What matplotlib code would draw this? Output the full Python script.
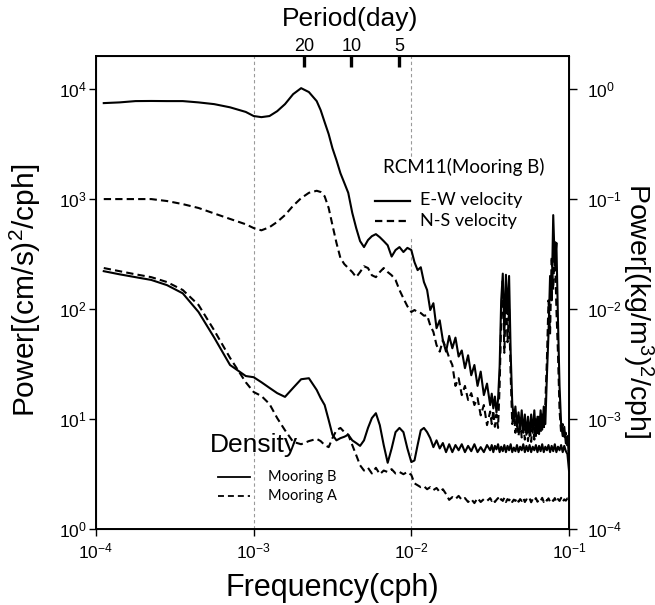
import matplotlib
matplotlib.use("Agg")
import matplotlib.pyplot as plt
import numpy as np
from matplotlib.ticker import FixedLocator, NullLocator, FuncFormatter

plt.rcParams['font.family'] = ['Liberation Sans', 'DejaVu Sans']
plt.rcParams['mathtext.fontset'] = 'custom'
plt.rcParams['mathtext.rm'] = 'Liberation Sans'
plt.rcParams['mathtext.it'] = 'Liberation Sans:italic'
plt.rcParams['mathtext.bf'] = 'Liberation Sans:bold'

# ---------------- data ----------------
freq = [1.12e-4, 1.41e-4, 1.78e-4, 2.24e-4, 2.82e-4, 3.55e-4, 4.47e-4, 5.62e-4, 7.08e-4, 8.91e-4,
        1.00e-3, 1.12e-3, 1.26e-3, 1.41e-3, 1.58e-3, 1.78e-3, 2.00e-3, 2.24e-3, 2.51e-3,
        2.66e-3, 2.82e-3, 2.99e-3, 3.16e-3, 3.35e-3, 3.55e-3, 3.76e-3, 3.98e-3, 4.22e-3, 4.47e-3,
        4.73e-3, 5.01e-3, 5.31e-3, 5.62e-3, 5.96e-3, 6.31e-3, 6.68e-3, 7.08e-3, 7.50e-3, 7.94e-3,
        8.41e-3, 8.91e-3, 9.44e-3, 1.00e-2,
        0.01047, 0.01096, 0.01148, 0.01202, 0.01259, 0.01318, 0.01380, 0.01445, 0.01514, 0.01585,
        0.01660, 0.01738, 0.01820, 0.01905, 0.01995, 0.02089, 0.02188, 0.02291, 0.02399, 0.02512,
        0.02630, 0.02754, 0.02884, 0.03020,
        0.03162, 0.03236, 0.03311, 0.03388, 0.03467, 0.03548, 0.03631, 0.03715, 0.03802, 0.03890,
        0.03981, 0.04074, 0.04169, 0.04266, 0.04365, 0.04467, 0.04571, 0.04677, 0.04786, 0.04898,
        0.05012, 0.05129, 0.05248, 0.05370, 0.05495, 0.05623, 0.05754, 0.05888, 0.06026, 0.06166,
        0.06310, 0.06457, 0.06607, 0.06761, 0.06918, 0.07079, 0.07244, 0.07413, 0.07586, 0.07762,
        0.07943, 0.08128, 0.08318, 0.08511, 0.08710, 0.08913, 0.09120, 0.09333, 0.09550, 0.09772,
        0.1]

# velocity spectra, (cm/s)^2/cph
ew_velocity = [7460, 7570, 7780, 7800, 7780, 7780, 7570, 7300, 6830, 6200,
               5690, 5560, 5690, 6300, 7300, 9000, 10200, 9400, 7780,
               6440, 5000, 3900, 2900, 2260, 1720, 1400, 1140, 750, 545, 415, 366, 424, 460,
               480, 450, 415, 380, 300, 344, 366, 330, 360, 344,
               267, 226, 240, 176, 149, 98, 113, 67, 79, 52, 41, 57, 44, 55, 37, 42, 29, 38, 25, 31,
               20, 27, 16.5, 21,
               13.4, 17, 12.5, 16, 11.5, 15, 30, 120, 210, 60,
               205, 90, 200, 40, 14, 10, 13, 8.5, 11.5, 8,
               12, 7.5, 11, 7.2, 10.5, 7, 11, 7.5, 12, 7,
               10.5, 7.3, 12, 8, 13, 9, 25, 60, 200, 120,
               715, 250, 400, 80, 20, 9, 7, 8.5, 6, 7,
               4.5]
ns_velocity = [1000, 1000, 1000, 1000, 960, 900, 830, 740, 660, 590,
               545, 520, 555, 620, 715, 870, 1020, 1140, 1190,
               1160, 1060, 830, 580, 400, 291, 256, 236, 217, 195, 217, 245, 236, 203,
               195, 217, 236, 217, 203, 184, 149, 125, 106, 94,
               98, 94, 92, 87, 88, 71, 62, 47, 41, 52, 44, 36, 31, 20, 23.5, 16.5, 20, 14.9, 17.2, 13.4,
               15.5, 10.8, 13.4, 8.8,
               11.7, 9, 12, 8.5, 11, 8.3, 20, 80, 180, 40,
               140, 50, 100, 25, 9, 12, 7.5, 10, 7, 9.5,
               6.8, 9.3, 6.5, 9, 6.3, 8.8, 6.2, 9.5, 6.5, 10,
               7, 10.5, 7.5, 11, 8, 14, 35, 120, 60, 300,
               150, 420, 100, 40, 12, 7.5, 9, 6.5, 7.5, 5.5,
               5]

# density spectra, in units of 1e-4 (kg/m^3)^2/cph
density_b_e4 = [221, 207, 195, 184, 165, 139, 94, 55, 31, 24.6,
                24, 21.6, 19.2, 17.2, 15.9, 19.2, 23, 23.5, 18.4,
                15.5, 13.4, 9.8, 7.2, 6.4, 6.7, 6.9, 7.2, 6.4, 6.05, 5.7, 6.4, 8.3, 10.2,
                11.3, 8.8, 5.8, 4.0, 5.4, 7.6, 8.3, 7.6, 5.4, 4.06,
                4.2, 5.8, 7.9, 8.3, 7.6, 6.7, 5.55, 6.4, 5.4, 6.05, 5.0, 5.9, 5.0, 5.8, 5.2, 5.9,
                5.0, 5.7, 5.1, 5.9, 5.0, 5.55, 5.0, 5.8,
                5.2, 5.8, 5.0, 5.7, 5.3, 5.9, 5.0, 5.6, 5.1, 5.8,
                5.0, 5.7, 5.2, 5.9, 5.0, 5.5, 5.1, 5.8, 5.0, 5.6,
                5.2, 5.9, 5.0, 5.7, 5.1, 5.8, 5.0, 5.6, 5.2, 5.8,
                5.0, 5.7, 5.1, 5.9, 5.0, 5.6, 5.2, 5.8, 5.0, 5.7,
                5.1, 5.9, 5.0, 5.6, 5.2, 5.8, 5.0, 5.7, 5.1, 4.8,
                3.4]
density_a_e4 = [236, 221, 207, 195, 176, 149, 109, 64, 36, 21.6,
                17.6, 16.2, 13.7, 10.2, 7.9, 6.2, 5.9, 6.3, 6.6,
                6.3, 5.8, 5.55, 6.7, 7.9, 8.3, 7.6, 7.2, 5.8, 4.7, 3.8, 3.4, 3.6, 3.2,
                3.6, 3.15, 3.4, 3.3, 3.5, 3.2, 3.3, 3.15, 3.3, 3.1,
                2.6, 2.5, 2.4, 2.45, 2.3, 2.4, 2.26, 2.36, 2.17, 2.3, 2.08, 1.84, 1.95, 1.87, 2.0,
                1.84, 1.91, 1.76, 1.87, 1.72, 1.91, 1.76, 1.87, 1.8,
                1.91, 1.80, 1.87, 1.76, 1.84, 1.91, 1.78, 1.87, 1.80, 1.92,
                1.76, 1.87, 1.82, 1.90, 1.76, 1.85, 1.80, 1.91, 1.77, 1.87,
                1.80, 1.92, 1.76, 1.86, 1.81, 1.90, 1.75, 1.87, 1.80, 1.91,
                1.77, 1.86, 1.80, 1.92, 1.76, 1.87, 1.81, 1.90, 1.77, 1.86,
                1.80, 1.91, 1.76, 1.87, 1.80, 1.92, 1.77, 1.86, 1.81, 1.90,
                1.91]

period_days = [20, 10, 5]
left_ticks = [1, 10, 100, 1000, 10000]
right_ticks = [1e-4, 1e-3, 1e-2, 1e-1, 1]
x_ticks = [1e-4, 1e-3, 1e-2, 1e-1]
ref_lines = [1e-3, 1e-2]

freq = np.array(freq)
density_b = np.array(density_b_e4) * 1e-4
density_a = np.array(density_a_e4) * 1e-4
period_freq = [1.0 / (24.0 * p) for p in period_days]

# ---------------- figure ----------------
fig = plt.figure(figsize=(6.55, 6.05), dpi=100)
ax = fig.add_axes([96 / 655, 1 - 529 / 605, 473 / 655, 473 / 605])
ax.set_xscale('log')
ax.set_yscale('log')
ax.set_xlim(1e-4, 1e-1)
ax.set_ylim(1, 2e4)

def sci(v, pos=None):
    e = int(round(np.log10(v)))
    return r'$\mathdefault{10^{%d}}$' % e

ax.xaxis.set_major_locator(FixedLocator(x_ticks))
ax.xaxis.set_minor_locator(NullLocator())
ax.yaxis.set_major_locator(FixedLocator(left_ticks))
ax.yaxis.set_minor_locator(NullLocator())
ax.xaxis.set_major_formatter(FuncFormatter(sci))
ax.yaxis.set_major_formatter(FuncFormatter(sci))
ax.tick_params(axis='both', direction='out', length=5, width=1, labelsize=12.5)
ax.tick_params(axis='y', pad=1.5)
ax.tick_params(axis='x', pad=4)
for s in ax.spines.values():
    s.set_linewidth(1.2)

# reference vertical lines
for xv in ref_lines:
    ax.axvline(xv, color='#9a9a9a', lw=0.8, ls=(0, (3, 2.5)), zorder=1)

# white box behind upper legend
ax.add_patch(plt.Rectangle((0.57, 0.615), 0.36, 0.17, transform=ax.transAxes,
                           facecolor='white', edgecolor='none', zorder=1.5))

lw = 1.5
ax.plot(freq, ew_velocity, color='black', lw=lw, zorder=3)
l_ns, = ax.plot(freq, ns_velocity, color='black', lw=lw, zorder=3)
l_ns.set_dashes([3.5, 2.0])

ax2 = ax.twinx()
ax2.set_yscale('log')
ax2.set_ylim(1e-4, 2)
ax2.yaxis.set_major_locator(FixedLocator(right_ticks))
ax2.yaxis.set_minor_locator(NullLocator())
ax2.yaxis.set_major_formatter(FuncFormatter(sci))
ax2.tick_params(axis='y', direction='out', length=6, width=1, labelsize=12.5, pad=7)
ax2.plot(freq, density_b, color='black', lw=lw, zorder=3)
l_da, = ax2.plot(freq, density_a, color='black', lw=lw, zorder=3)
l_da.set_dashes([3.5, 2.0])
for s in ax2.spines.values():
    s.set_linewidth(1.2)

axt = ax.twiny()
axt.set_xscale('log')
axt.set_xlim(1e-4, 1e-1)
axt.xaxis.set_major_locator(FixedLocator(period_freq))
axt.xaxis.set_minor_locator(NullLocator())
axt.set_xticklabels([str(p) for p in period_days])
axt.tick_params(axis='x', direction='in', length=8, width=2.4, labelsize=13, pad=1)

# axis labels
ax.set_xlabel('Frequency(cph)', fontsize=22)
ax.xaxis.set_label_coords(0.5, -0.093)
ax.set_ylabel(r'Power[(cm/s)$^2$/cph]', fontsize=21.5)
ax.yaxis.set_label_coords(-0.112, 0.505)
ax2.set_ylabel(r'Power[(kg/m$^3$)$^2$/cph]', fontsize=20.5, rotation=-90, va='center')
ax2.yaxis.set_label_coords(1.144, 0.461)
axt.set_xlabel('Period(day)', fontsize=19)
axt.xaxis.set_label_coords(0.537, 1.064)

# legends (drawn manually to match layout)
lfont = ['Lato', 'DejaVu Sans']
T = ax.transAxes
ax.text(0.607, 0.765, 'RCM11(Mooring B)', transform=T, fontsize=13.5, family=lfont,
        va='center', ha='left', zorder=4)
ax.plot([0.590, 0.664], [0.694, 0.694], transform=T, color='black', lw=1.6, zorder=4)
h, = ax.plot([0.590, 0.664], [0.651, 0.651], transform=T, color='black', lw=1.6, zorder=4)
h.set_dashes([3.3, 2.0])
ax.text(0.685, 0.696, 'E-W velocity', transform=T, fontsize=13, family=lfont,
        va='center', ha='left', zorder=4)
ax.text(0.685, 0.651, 'N-S velocity', transform=T, fontsize=13, family=lfont,
        va='center', ha='left', zorder=4)

ax.text(0.241, 0.163, 'Density', transform=T, fontsize=19, va='baseline', ha='left', zorder=4)
ax.plot([0.258, 0.326], [0.110, 0.110], transform=T, color='black', lw=1.3, zorder=4)
h2, = ax.plot([0.258, 0.326], [0.070, 0.070], transform=T, color='black', lw=1.3, zorder=4)
h2.set_dashes([3.3, 2.2])
ax.text(0.364, 0.110, 'Mooring B', transform=T, fontsize=10.5, family=lfont,
        va='center', ha='left', zorder=4)
ax.text(0.364, 0.070, 'Mooring A', transform=T, fontsize=10.5, family=lfont,
        va='center', ha='left', zorder=4)

fig.savefig('out.png', dpi=100)
